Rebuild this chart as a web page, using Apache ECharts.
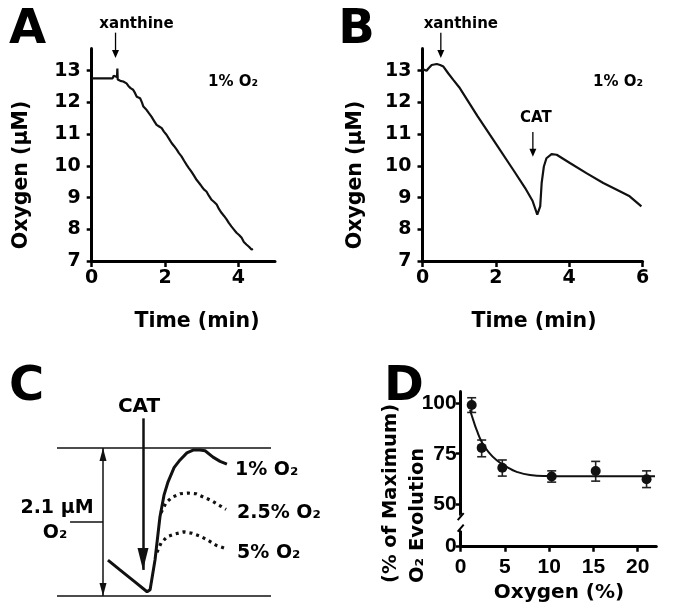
<!DOCTYPE html>
<html><head><meta charset="utf-8">
<script src="https://cdn.jsdelivr.net/npm/echarts@6/dist/echarts.min.js"></script>
<style>html,body{margin:0;padding:0;background:#fff}#c{width:673px;height:615px}</style>
</head><body><div id="c"></div>
<script>
// ---------- Panel A : 1% O2, xanthine added ----------
const timeA = [0,0.57,0.6,0.64,0.69,0.70,0.71,0.78,0.86,0.95,1.0,1.06,1.13,1.18,1.23,1.32,1.37,1.41,1.5,1.56,1.63,1.7,1.77,1.84,1.91,1.97,2.04,2.11,2.18,2.25,2.32,2.38,2.45,2.52,2.59,2.65,2.72,2.79,2.86,2.93,3.0,3.06,3.13,3.2,3.27,3.34,3.41,3.47,3.54,3.61,3.68,3.74,3.81,3.88,3.95,4.02,4.09,4.15,4.22,4.29,4.36,4.4];
const oxygenA = [12.76,12.76,12.84,12.8,12.8,13.07,12.72,12.68,12.66,12.6,12.52,12.45,12.4,12.3,12.18,12.13,12.0,11.87,11.76,11.66,11.55,11.42,11.29,11.24,11.19,11.08,10.98,10.85,10.72,10.62,10.51,10.4,10.3,10.16,10.03,9.93,9.82,9.69,9.56,9.46,9.35,9.26,9.19,9.05,8.93,8.86,8.78,8.64,8.52,8.42,8.31,8.2,8.09,7.99,7.89,7.82,7.73,7.6,7.52,7.45,7.36,7.38];
// ---------- Panel B : xanthine then catalase ----------
const timeB = [0,0.05,0.11,0.16,0.25,0.39,0.48,0.57,0.7,0.84,1.0,1.5,2.0,2.5,2.8,3.0,3.13,3.21,3.25,3.31,3.38,3.52,3.66,4.02,4.47,4.93,5.38,5.65,5.97];
const oxygenB = [13.05,13.02,13.0,13.07,13.18,13.21,13.18,13.13,12.92,12.71,12.48,11.57,10.7,9.83,9.3,8.9,8.46,8.72,9.46,9.98,10.24,10.37,10.35,10.09,9.77,9.46,9.2,9.04,8.72];
const ticksY_AB = [7,8,9,10,11,12,13];
const ticksX_A = [0,2,4];
const ticksX_B = [0,2,4,6];
// annotations (time, O2) : arrow tail / tip
const xanthineA = {t:0.65, from:14.2, to:13.4};
const xanthineB = {t:0.5, from:14.2, to:13.4};
const catB = {t:3.01, from:11.07, to:10.29};
// ---------- Panel C : schematic recovery after CAT ----------
const c1X = [2.38,2.94,3.64,4.21,4.35,4.58,4.81,5.0,5.19,5.47,5.75,6.07,6.36,6.68,6.92,7.29,7.62,7.94];
const c1Y = [0.51,0.37,0.2,0.06,0.09,0.51,1.12,1.43,1.62,1.82,1.93,2.03,2.07,2.07,2.06,1.97,1.91,1.87];
const c25X = [4.86,5.09,5.37,5.75,6.12,6.5,6.87,7.24,7.62,7.9];
const c25Y = [1.18,1.32,1.40,1.45,1.46,1.45,1.40,1.35,1.28,1.23];
const c5X = [4.67,4.86,5.14,5.51,5.93,6.31,6.68,7.06,7.43,7.9];
const c5Y = [0.62,0.75,0.84,0.88,0.91,0.89,0.85,0.79,0.72,0.67];
const cRange = 2.1;      // µM between the two reference lines
const cRangeX = 2.15;    // position of the double arrow
const cLabelTickX = 0.61;
const catC = {t:4.02, from:2.52, to:0.37};
// ---------- Panel D : O2 evolution vs oxygen ----------
const oxygenPct = [1.24,2.37,4.7,10.28,15.25,21.0];
const evolution = [99.2,77.9,68.0,63.7,66.4,62.3];
const errLow = [95.5,73.5,63.9,60.9,61.4,58.2];
const errHigh = [102.8,81.8,71.9,66.5,71.2,66.5];
const fitX = [1.05,1.42,1.8,2.37,3.12,4.07,5.2,6.33,7.83,9.72,12,16,20,21.95];
const fitY = [96.7,91.7,86.8,80.9,76,71.8,68.5,66,64.4,63.9,63.8,63.8,63.8,63.8];
const ticksX_D = [0,5,10,15,20];
const ticksY_D = [0,50,75,100];
const breakD = {start:8, end:45};

const zip = (a,b)=>a.map((v,i)=>[v,b[i]]);
const FF = "'DejaVu Sans', sans-serif";
const FN = "'Liberation Sans Narrow','Arial Narrow','Liberation Sans',sans-serif";
const INK = '#111';

function axis(grid, min, max, ticks, o) {
  o = o || {};
  return {
    type:'value', gridIndex:grid, min:min, max:max, show: o.show !== false,
    axisLine:{show:true, onZero:false, lineStyle:{color:'#000', width:3}},
    axisTick:{show:true, length:o.tickLen||5, customValues:ticks, lineStyle:{color:'#000', width:o.tickW||2.5}},
    axisLabel:{show:true, customValues:ticks, margin:o.margin||10, color:'#000', fontFamily:o.font||FF, fontWeight:'bold', fontSize:o.fs||19},
    splitLine:{show:false},
    ...(o.extra||{})
  };
}

const chart = echarts.init(document.getElementById('c'), null, {renderer:'canvas'});
const option = {
  animation:false,
  backgroundColor:'#fff',
  grid:[
    {left:91.7, top:48.5, width:183.3, height:212.5, outerBoundsMode:'none'},
    {left:422.5, top:48.5, width:220, height:212.5, outerBoundsMode:'none'},
    {left:57, top:412.7, width:214, height:183.3, outerBoundsMode:'none'},
    {left:460.7, top:391.7, width:195.6, height:155, outerBoundsMode:'none'}
  ],
  xAxis:[
    axis(0,0,5,ticksX_A,{margin:8, tickLen:6}),
    axis(1,0,6,ticksX_B,{margin:8, tickLen:6}),
    {type:'value', gridIndex:2, min:0, max:10, show:false},
    axis(3,0,22.1,ticksX_D,{margin:10, tickLen:5, font:FN, fs:21})
  ],
  yAxis:[
    axis(0,7,13.7,ticksY_AB,{margin:11}),
    axis(1,7,13.7,ticksY_AB,{margin:11}),
    {type:'value', gridIndex:2, min:0, max:2.6, show:false},
    axis(3,0,105.8,ticksY_D,{margin:4, font:FN, fs:21, extra:{
      breaks:[{start:breakD.start, end:breakD.end, gap:'10.6%'}],
      breakArea:{show:true, expandOnClick:false, zigzagAmplitude:2, zigzagZ:100,
        itemStyle:{color:'#fff', borderColor:'#fff', borderWidth:0, opacity:1}}
    }})
  ],
  series:[
    {type:'line', xAxisIndex:0, yAxisIndex:0, data:zip(timeA,oxygenA), showSymbol:false, symbol:'none',
     lineStyle:{color:INK, width:2.2}},
    {type:'line', xAxisIndex:1, yAxisIndex:1, data:zip(timeB,oxygenB), showSymbol:false, symbol:'none',
     lineStyle:{color:INK, width:2.2}},
    {type:'line', xAxisIndex:2, yAxisIndex:2, data:zip(c1X,c1Y), symbol:'none', clip:false,
     lineStyle:{color:INK, width:3},
     endLabel:{show:true, formatter:'1% O₂', distance:8, offset:[0,6], fontFamily:FF, fontWeight:'bold', fontSize:19, color:'#000'},
     markLine:{silent:true, symbol:'none', animation:false, label:{show:false},
       lineStyle:{type:'solid', color:INK, width:1.5},
       emphasis:{disabled:true},
       data:[
         {yAxis:0},
         {yAxis:cRange},
         [{coord:[cRangeX,0], symbol:'triangle', symbolSize:[7,13], symbolOffset:[0,'50%']},
          {coord:[cRangeX,cRange], symbol:'triangle', symbolSize:[7,13], symbolOffset:[0,'50%']}],
         [{coord:[cLabelTickX,cRange/2]},{coord:[cRangeX,cRange/2]}],
         [{coord:[catC.t,catC.from], lineStyle:{width:2.5}},
          {coord:[catC.t,catC.to], symbol:'triangle', symbolSize:[11,22], symbolOffset:[0,'50%']}]
       ]}},
    {type:'line', xAxisIndex:2, yAxisIndex:2, data:zip(c25X,c25Y), symbol:'none',
     lineStyle:{color:INK, width:3.2, type:[3,4], cap:'butt'},
     endLabel:{show:true, formatter:'2.5% O₂', distance:11, offset:[0,4], fontFamily:FF, fontWeight:'bold', fontSize:19, color:'#000'}},
    {type:'line', xAxisIndex:2, yAxisIndex:2, data:zip(c5X,c5Y), symbol:'none',
     lineStyle:{color:INK, width:3.2, type:[3,4], cap:'butt'},
     endLabel:{show:true, formatter:'5% O₂', distance:11, offset:[0,4], fontFamily:FF, fontWeight:'bold', fontSize:19, color:'#000'}},
    {type:'line', xAxisIndex:3, yAxisIndex:3, data:zip(fitX,fitY), symbol:'none', smooth:true,
     lineStyle:{color:INK, width:2}},
    {type:'custom', xAxisIndex:3, yAxisIndex:3, z:3,
     data:oxygenPct.map((x,i)=>[x,errLow[i],errHigh[i]]),
     encode:{x:0, y:[1,2]},
     renderItem:function(params, api){
       const x = api.value(0);
       const lo = api.coord([x, api.value(1)]);
       const hi = api.coord([x, api.value(2)]);
       const w = 4.5, st = {stroke:'#222', lineWidth:1.6};
       return {type:'group', children:[
         {type:'line', shape:{x1:lo[0],y1:lo[1],x2:hi[0],y2:hi[1]}, style:st},
         {type:'line', shape:{x1:lo[0]-w,y1:lo[1],x2:lo[0]+w,y2:lo[1]}, style:st},
         {type:'line', shape:{x1:hi[0]-w,y1:hi[1],x2:hi[0]+w,y2:hi[1]}, style:st}
       ]};
     }},
    {type:'scatter', xAxisIndex:3, yAxisIndex:3, z:4, data:zip(oxygenPct,evolution), symbolSize:10,
     itemStyle:{color:INK, opacity:1}}
  ]
};
chart.setOption(option);

function txt(x,y,s,font,o){ o=o||{}; return {type:'text', x:x, y:y, rotation:o.rot||0, z:50,
  style:{text:s, font:font, fill:'#000', align:o.align||'center', verticalAlign:o.va||'middle'}}; }
function arrow(grid, a){
  const p0 = chart.convertToPixel({gridIndex:grid},[a.t,a.from]);
  const p1 = chart.convertToPixel({gridIndex:grid},[a.t,a.to]);
  return [
    {type:'line', z:50, shape:{x1:p0[0],y1:p0[1],x2:p1[0],y2:p1[1]-3}, style:{stroke:'#000', lineWidth:1.3}},
    {type:'polygon', z:50, shape:{points:[[p1[0]-3.5,p1[1]-8],[p1[0]+3.5,p1[1]-8],[p1[0],p1[1]]]}, style:{fill:'#000'}}
  ];
}
const big = "bold 48px 'DejaVu Sans'";
const ttl = "bold 20.5px 'DejaVu Sans'";
const sm = "bold 15px 'DejaVu Sans'";
const cf = "bold 19px 'DejaVu Sans'";
const pxA = chart.convertToPixel({gridIndex:0},[xanthineA.t,xanthineA.from]);
const pxB = chart.convertToPixel({gridIndex:1},[xanthineB.t,xanthineB.from]);
const pcB = chart.convertToPixel({gridIndex:1},[catB.t,catB.from]);
const pcC = chart.convertToPixel({gridIndex:2},[catC.t,catC.from]);
// break mark on the D y axis
const bTop = chart.convertToPixel({gridIndex:3},[0,breakD.end]);
const bBot = chart.convertToPixel({gridIndex:3},[0,breakD.start]);
const graphics = [
  txt(27.5,31,'A',big), txt(356.5,31,'B',big), txt(26.5,388,'C',big), txt(404,388,'D',big),
  txt(21.5,175,'Oxygen (µM)',ttl,{rot:Math.PI/2}), txt(356,175,'Oxygen (µM)',ttl,{rot:Math.PI/2}),
  txt(197,322,'Time (min)',ttl), txt(534,322,'Time (min)',ttl),
  txt(208,82,'1% O₂',sm,{align:'left'}), txt(593,82,'1% O₂',sm,{align:'left'}),
  txt(pxA[0]+21,pxA[1]-9,'xanthine',sm), txt(pxB[0]+20,pxB[1]-9,'xanthine',sm),
  txt(pcB[0]+3,pcB[1]-14,'CAT',sm),
  ...arrow(0,xanthineA), ...arrow(1,xanthineB), ...arrow(1,catB),
  txt(pcC[0]-4,pcC[1]-12,'CAT',"bold 20px 'DejaVu Sans'"),
  txt(57,508,'2.1 µM',cf), txt(55,533,'O₂',cf),
  {type:'line', z:120, shape:{x1:bTop[0]-3,y1:bTop[1]+6,x2:bTop[0]+3,y2:bTop[1]-1}, style:{stroke:'#000', lineWidth:2}},
  {type:'line', z:120, shape:{x1:bBot[0]-3,y1:bBot[1]+1,x2:bBot[0]+3,y2:bBot[1]-6}, style:{stroke:'#000', lineWidth:2}},
  txt(391,583,'(% of Maximum)',"bold 19.5px 'DejaVu Sans'",{rot:Math.PI/2, align:'left'}),
  txt(418,583,'O₂ Evolution',"bold 19.5px 'DejaVu Sans'",{rot:Math.PI/2, align:'left'}),
  txt(559,593,'Oxygen (%)',"bold 20px 'DejaVu Sans'")
];
chart.setOption({graphic:graphics});
</script></body></html>
